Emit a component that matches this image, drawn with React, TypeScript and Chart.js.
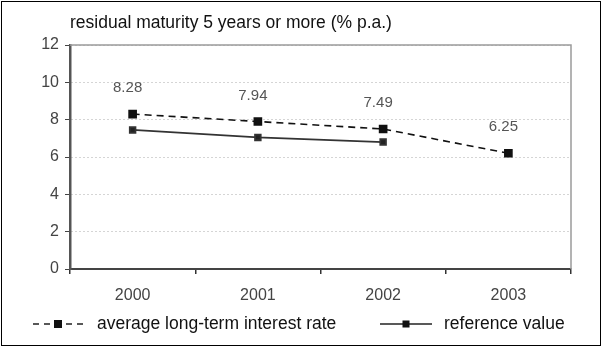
import React, { useEffect, useRef } from "react";
import { Chart, registerables } from "chart.js";

Chart.register(...registerables);

const categories = ["2000", "2001", "2002", "2003"];
const averageRate = [8.3, 7.9, 7.5, 6.2];
const referenceValue: (number | null)[] = [7.45, 7.05, 6.8, null];
const averageLabels = ["8.28", "7.94", "7.49", "6.25"];
const yTicks = [0, 2, 4, 6, 8, 10, 12];
const titleText = "residual maturity 5 years or more (% p.a.)";
const legendNames = ["average long-term interest rate", "reference value"];

const FONT = "'Liberation Sans', Arial, sans-serif";

export default function App() {
  const ref = useRef<HTMLCanvasElement | null>(null);
  useEffect(() => {
    document.body.style.margin = "0";
    const canvas = ref.current!;
    const decor = {
      id: "decor",
      beforeDatasetsDraw(chart: any) {
        const { ctx, chartArea } = chart;
        ctx.save();
        ctx.strokeStyle = "#9a9a9a";
        ctx.lineWidth = 1.5;
        ctx.beginPath();
        ctx.moveTo(chartArea.left, chartArea.top);
        ctx.lineTo(chartArea.right, chartArea.top);
        ctx.lineTo(chartArea.right, chartArea.bottom);
        ctx.stroke();
        ctx.restore();
      },
      afterDraw(chart: any) {
        const { ctx, chartArea } = chart;
        ctx.save();
        ctx.strokeStyle = "#000";
        ctx.lineWidth = 1;
        ctx.strokeRect(1.5, 1.5, 599, 344);
        ctx.fillStyle = "#111";
        ctx.font = `17.5px ${FONT}`;
        ctx.textBaseline = "middle";
        ctx.textAlign = "left";
        ctx.fillText(titleText, chartArea.left, 23);
        const meta = chart.getDatasetMeta(0);
        ctx.font = `15px ${FONT}`;
        ctx.fillStyle = "#555";
        ctx.textAlign = "center";
        meta.data.forEach((pt: any, i: number) => {
          ctx.fillText(averageLabels[i], pt.x - 5, pt.y - 26);
        });
        const ly = 324;
        const drawItem = (x0: number, x1: number, dash: number[], size: number, text: string, tx: number) => {
          ctx.strokeStyle = "#222";
          ctx.lineWidth = 1.5;
          ctx.setLineDash(dash);
          ctx.beginPath();
          ctx.moveTo(x0, ly);
          ctx.lineTo(x1, ly);
          ctx.stroke();
          ctx.setLineDash([]);
          ctx.fillStyle = "#111";
          const mx = (x0 + x1) / 2;
          ctx.fillRect(mx - size / 2, ly - size / 2, size, size);
          ctx.font = `17.5px ${FONT}`;
          ctx.textAlign = "left";
          ctx.fillText(text, tx, ly);
        };
        drawItem(33, 83, [6, 5], 8, legendNames[0], 97);
        drawItem(380, 432, [], 7, legendNames[1], 444);
        ctx.restore();
      },
    };
    const chart = new Chart(canvas, {
      type: "line",
      data: {
        labels: categories,
        datasets: [
          {
            label: legendNames[0],
            data: averageRate,
            borderColor: "#111",
            backgroundColor: "#111",
            borderWidth: 1.6,
            borderDash: [7, 5],
            pointStyle: "rect",
            pointRadius: 5,
            tension: 0,
          },
          {
            label: legendNames[1],
            data: referenceValue,
            borderColor: "#333",
            backgroundColor: "#222",
            borderWidth: 1.8,
            pointStyle: "rect",
            pointRadius: 4,
            tension: 0,
          },
        ],
      },
      options: {
        animation: false,
        responsive: false,
        layout: { padding: { top: 45, right: 32, bottom: 40, left: 0 } },
        plugins: { legend: { display: false }, tooltip: { enabled: false } },
        scales: {
          x: {
            offset: true,
            afterFit: (s: any) => { s.height = 38; },
            grid: { offset: true, drawOnChartArea: false, drawTicks: true, tickLength: 5, color: "#333", lineWidth: 1.5 },
            border: { display: true, color: "#444", width: 2 },
            ticks: { color: "#444", font: { family: FONT, size: 16 }, padding: 12 },
          },
          y: {
            min: 0,
            max: 12,
            afterFit: (s: any) => { s.width = 70; },
            afterBuildTicks: (s: any) => { s.ticks = yTicks.map((v) => ({ value: v })); },
            grid: {
              color: "#aaaaaa",
              lineWidth: 1,
              tickColor: "#444",
              tickLength: 5,
            } as any,
            border: { display: true, color: "#555", width: 2.5 },
            ticks: { color: "#444", font: { family: FONT, size: 16 }, padding: 6 },
          },
        },
      },
      plugins: [decor],
    } as any);
    (chart.options.scales as any).y.border.dash = [1, 3];
    chart.update();
    return () => chart.destroy();
  }, []);
  return (
    <div style={{ width: 603, height: 347 }}>
      <canvas ref={ref} width={603} height={347} style={{ width: 603, height: 347, display: "block" }} />
    </div>
  );
}
